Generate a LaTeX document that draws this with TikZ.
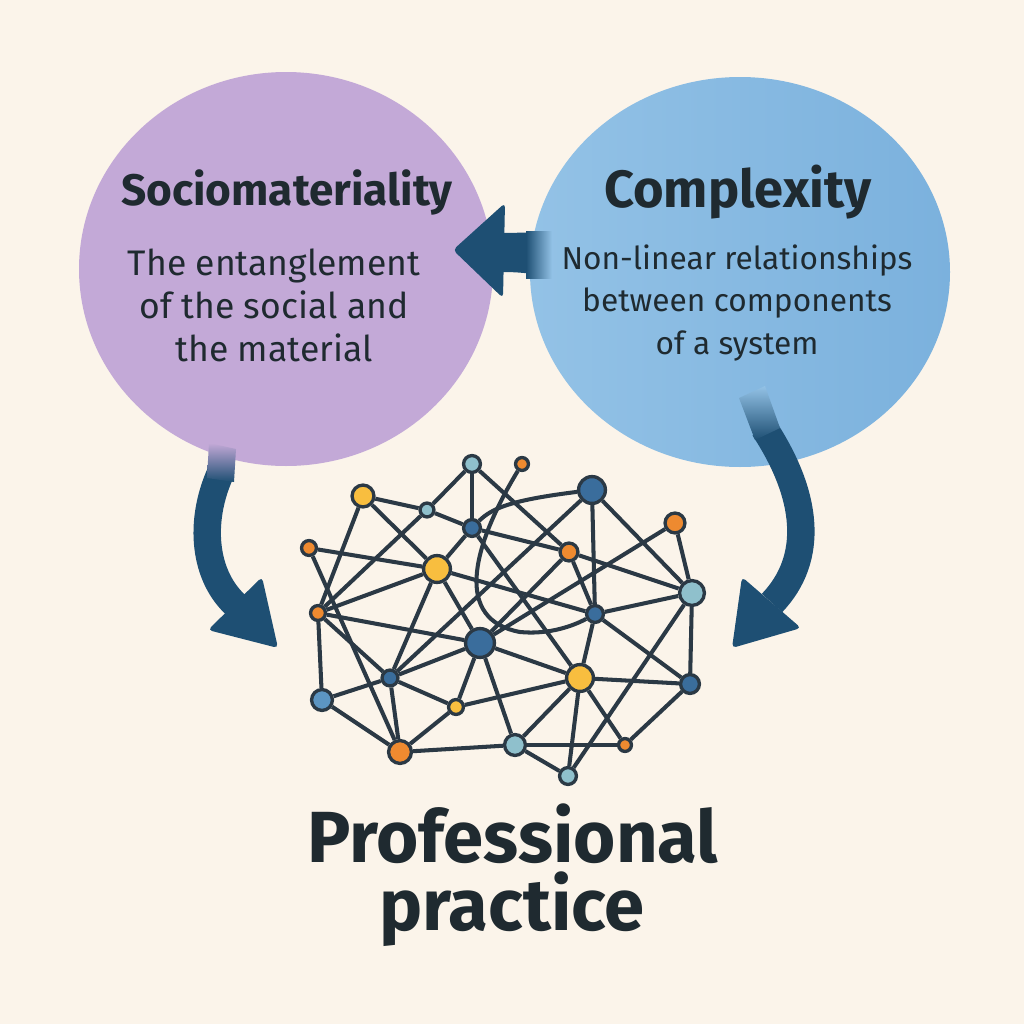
\documentclass[tikz,border=0pt]{standalone}
\usepackage{fontspec}
\setmainfont{Fira Sans}
\definecolor{bgcol}{HTML}{FBF4EA}
\definecolor{purp}{HTML}{C3A9D7}
\definecolor{bluelt}{HTML}{93C2E6}
\definecolor{bluedk}{HTML}{7BB1DD}
\definecolor{arrowcol}{HTML}{1E4F73}
\definecolor{txt}{HTML}{1F2A30}
\definecolor{edgecol}{HTML}{2B3945}
\definecolor{cyel}{HTML}{F8BE3F}
\definecolor{corg}{HTML}{EE8A30}
\definecolor{cdb}{HTML}{3A6D9C}
\definecolor{clt}{HTML}{8FC0CC}
\definecolor{cmb}{HTML}{5C95C2}
\pgfdeclarelayer{back}
\pgfdeclarelayer{edges}
\pgfsetlayers{back,edges,main}
\tikzset{
  dot/.style 2 args={circle, draw=edgecol, line width=0.95pt, fill=#1, minimum size=#2*0.02cm-0.9pt, inner sep=0pt},
  link/.style={draw=edgecol, line width=1.15pt},
  shaft/.style={draw=arrowcol, line width=7.8pt},
  head/.style={fill=arrowcol, rounded corners=1.2pt},
  title/.style={font=\fontsize{#1}{16}\selectfont\bfseries, text=txt},
  body/.style={font=\fontsize{#1}{12.2}\selectfont, text=txt, align=center},
  big/.style={font=\fontsize{20.6}{19.4}\selectfont\bfseries, text=txt, inner sep=0pt}
}
\begin{document}
\begin{tikzpicture}[x=0.01cm, y=-0.01cm]
\begin{pgfonlayer}{back}
\fill[bgcol] (0,0) rectangle (1024,1024);
\useasboundingbox (0,0) rectangle (1024,1024);
% circles
\fill[purp] (286,269) ellipse [x radius=207, y radius=197];
\shade[left color=bluelt, right color=bluedk] (740,272) ellipse [x radius=210, y radius=195];
% top arrow
\fill[arrowcol] (545,233) .. controls (530,232) and (515,233) .. (503,233) -- (503,272) .. controls (515,272) and (530,273) .. (545,276) -- cycle;
\shade[left color=arrowcol, right color=bluelt] (526,231) rectangle (552,278);
\fill[head] (453,250) -- (505,203) -- (503,298) -- cycle;
% left arrow
\draw[shaft] (221,472) .. controls (198,522) and (204,577) .. (237,606);
\shade[top color=purp, bottom color=arrowcol] (209,443) -- (236,449) -- (234,482) -- (207,478) -- cycle;
\fill[head] (278,648) -- (208,630) -- (262,577) -- cycle;
% right arrow
\draw[shaft] (764,428) .. controls (808,495) and (815,558) .. (772,603);
\shade[top color=bluelt, bottom color=arrowcol] (739,398) -- (765,386) -- (780,428) -- (755,440) -- cycle;
\fill[head] (732,648) -- (742,577) -- (801,628) -- cycle;
\end{pgfonlayer}
% texts
\node[title=12.55] (t1) at (287,192) {Sociomateriality};
\node[body=10.1] (b1) at (274,305) {The entanglement\\of the social and\\the material};
\node[title=14.9] (t2) at (738,192) {Complexity};
\node[body=9.0] (b2) at (737,303) {Non-linear relationships\\between components\\of a system};
\node[big, anchor=base] (p1) at (513,862) {Professional};
\node[big, anchor=base] (p2) at (512,930) {practice};
% network nodes
\node[dot={clt}{10}] (n1) at (472,464) {};
\node[dot={corg}{8}] (n2) at (522,464) {};
\node[dot={cyel}{12.5}] (n3) at (363,496) {};
\node[dot={clt}{8.5}] (n4) at (427,510) {};
\node[dot={cdb}{15}] (n5) at (592,490) {};
\node[dot={cdb}{10}] (n6) at (472,528) {};
\node[dot={corg}{9}] (n7) at (309,548) {};
\node[dot={corg}{11.5}] (n8) at (675,523) {};
\node[dot={corg}{10.5}] (n9) at (569,552) {};
\node[dot={cyel}{15}] (n10) at (437,569) {};
\node[dot={clt}{14}] (n11) at (692,593) {};
\node[dot={corg}{9}] (n12) at (318,613) {};
\node[dot={cdb}{10}] (n13) at (595,614) {};
\node[dot={cdb}{16}] (n14) at (480,643) {};
\node[dot={cyel}{15}] (n15) at (580,678) {};
\node[dot={cdb}{9.5}] (n16) at (390,678) {};
\node[dot={cmb}{12}] (n17) at (322,700) {};
\node[dot={cdb}{11}] (n18) at (690,684) {};
\node[dot={cyel}{9}] (n19) at (456,707) {};
\node[dot={corg}{13}] (n20) at (400,752) {};
\node[dot={clt}{12}] (n21) at (515,745) {};
\node[dot={corg}{8}] (n22) at (625,745) {};
\node[dot={clt}{10}] (n23) at (568,776) {};
\begin{pgfonlayer}{edges}
\foreach \a/\b in {n1/n4, n1/n6, n1/n9, n3/n4, n3/n10, n3/n12, n4/n6, n4/n12,
  n5/n11, n5/n13, n5/n16, n6/n9, n6/n10, n6/n15, n7/n10, n7/n20, n8/n11, n8/n14,
  n9/n11, n9/n13, n9/n14, n10/n12, n10/n13, n10/n14, n10/n16, n11/n13, n11/n18,
  n11/n23, n12/n14, n12/n16, n12/n17, n13/n15, n13/n18, n14/n15, n14/n16, n14/n19,
  n14/n21, n15/n18, n15/n19, n15/n21, n15/n22, n15/n23, n16/n17, n16/n19, n16/n20,
  n17/n20, n19/n20, n20/n21, n21/n22, n21/n23, n18/n22}
  \draw[link] (\a) -- (\b);
\draw[link] (n6) .. controls (492,508) and (512,500) .. (n5);
\draw[link] (n2) .. controls (470,550) and (455,620) .. (520,632) .. controls (550,635) and (575,625) .. (n13);
\end{pgfonlayer}
\end{tikzpicture}
\end{document}
